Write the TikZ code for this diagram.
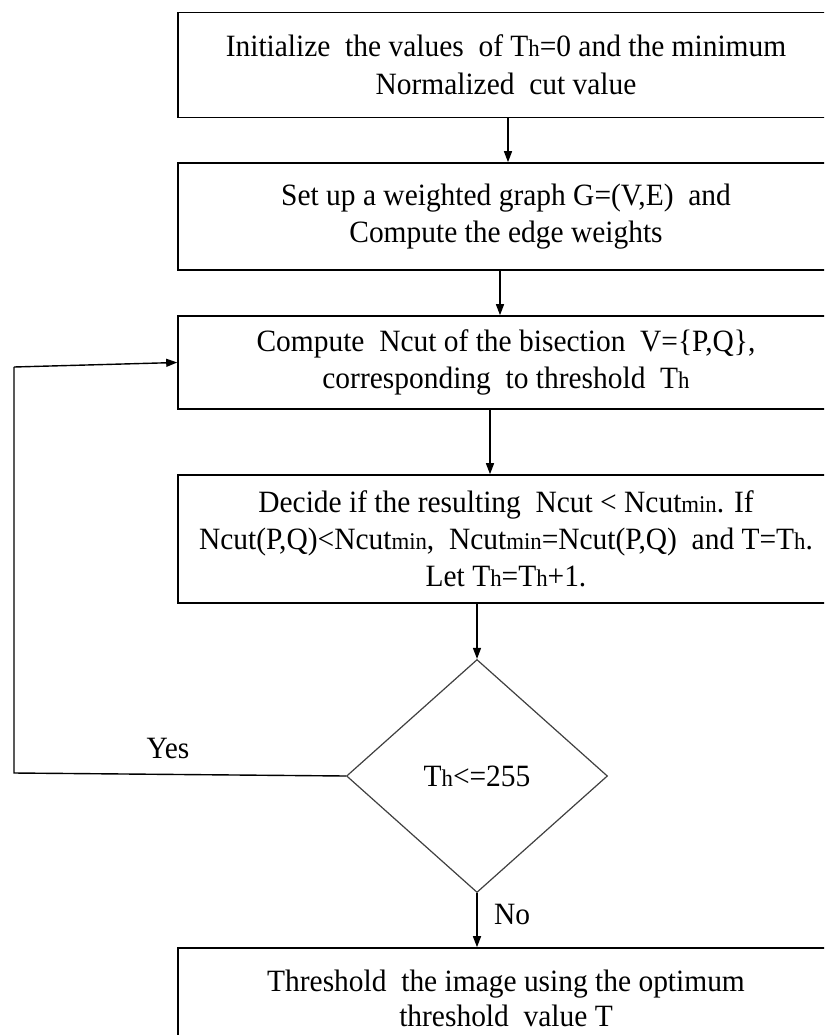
\documentclass[tikz,border=0pt]{standalone}
\usepackage{fontspec}
\setmainfont{Liberation Serif}[FakeStretch=0.95]
\usetikzlibrary{shapes.geometric,arrows.meta}
\newcommand\smtxt[1]{{\fontsize{24}{24}\selectfont #1}}
\tikzset{
  box/.style={draw, line width=1.6pt, minimum width=656pt, align=center, inner sep=2pt,
    font=\fontsize{31}{37}\selectfont},
  dec/.style={draw=black!75, line width=1.2pt, diamond, aspect=1.12, minimum width=261pt, minimum height=233pt, inner sep=0pt,
    font=\fontsize{31}{37}\selectfont},
  arr/.style={line width=1.4pt, -{Triangle[length=11pt,width=8pt]}},
  lbl/.style={font=\fontsize{31}{37}\selectfont}
}
\begin{document}
\begin{tikzpicture}[x=1pt,y=-1pt]
\clip (0,0) rectangle (824,1035);
\fill[white] (0,0) rectangle (824,1035);
\node[box, minimum height=105pt, font=\fontsize{31}{38}\selectfont] (b1) at (506,65) {Initialize\ \ the values\ \ of T\smtxt{h}=0 and the minimum\\Normalized\ \ cut value};
\node[box, minimum height=107pt] (b2) at (506,216.5) {Set up a weighted graph G=(V,E)\ \ and\\Compute the edge weights};
\node[box, minimum height=93pt] (b3) at (506,362.5) {Compute\ \ Ncut of the bisection\ \ V=\{P,Q\},\\corresponding\ \ to threshold\ \ T\smtxt{h}};
\node[box, minimum height=128pt] (b4) at (506,539) {Decide if the resulting\ \ Ncut < Ncut\smtxt{min}. If\\Ncut(P,Q)<Ncut\smtxt{min},\ \ Ncut\smtxt{min}=Ncut(P,Q)\ \ and T=T\smtxt{h}.\\Let T\smtxt{h}=T\smtxt{h}+1.};
\node[dec] (d) at (477,776) {T\smtxt{h}<=255};
\node[box, minimum height=100pt, font=\fontsize{31}{35}\selectfont] (b5) at (506,998) {Threshold\ \ the image using the optimum\\threshold\ \ value T};
\coordinate (yl) at (14,773);
\coordinate (yu) at (14,367);
\draw[arr] ([xshift=2pt]b1.south) -- ([xshift=2pt]b2.north);
\draw[arr] ([xshift=-6pt]b2.south) -- ([xshift=-6pt]b3.north);
\draw[arr] ([xshift=-16pt]b3.south) -- ([xshift=-16pt]b4.north);
\draw[arr] (b4.south -| d.north) -- (d.north);
\draw[arr] (d.south) -- (d.south |- b5.north);
\draw[line width=1.4pt] (d.west) -- (yl) -- (yu);
\draw[arr] (yu) -- (b3.west);
\node[lbl] (yes) at (168,748) {Yes};
\node[lbl] (no) at (512,914) {No};
\end{tikzpicture}
\end{document}
